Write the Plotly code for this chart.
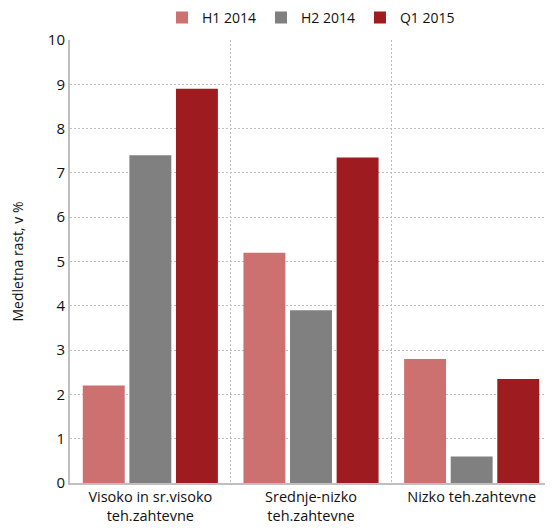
import plotly.graph_objs as go

categories = ['Visoko in sr.visoko<br>teh.zahtevne', 'Srednje-nizko<br>teh.zahtevne', 'Nizko teh.zahtevne']
series_names = ['H1 2014', 'H2 2014', 'Q1 2015']
h1_2014 = [2.2, 5.2, 2.8]
h2_2014 = [7.4, 3.9, 0.6]
q1_2015 = [8.9, 7.35, 2.35]
y_ticks = [0, 1, 2, 3, 4, 5, 6, 7, 8, 9, 10]

colors = ['#CD7070', '#808080', '#9E1B20']
positions = list(range(len(categories)))

fig = go.Figure()
for name, values, color in zip(series_names, [h1_2014, h2_2014, q1_2015], colors):
    fig.add_trace(go.Bar(x=positions, y=values, name=name,
                         marker=dict(color=color, line=dict(width=0))))

# page body adds an 8px margin, so the margins below are shifted by that
fig.update_layout(
    width=553, height=531,
    barmode='group', bargap=0.13, bargroupgap=0.1,
    plot_bgcolor='white', paper_bgcolor='white',
    font=dict(family='Open Sans, Noto Sans, sans-serif', size=14, color='#111111'),
    margin=dict(l=62, r=9, t=32, b=56, autoexpand=False),
    legend=dict(orientation='h', x=0.5, xanchor='center', y=1.05, yanchor='middle',
                font=dict(size=14), itemwidth=30, traceorder='normal'),
    xaxis=dict(range=[-0.5, 2.5], tickvals=positions, ticktext=categories,
               showgrid=False, showline=True, linecolor='#BFBFBF', linewidth=2,
               ticks='', zeroline=False, tickfont=dict(size=14.5),
               minor=dict(tickvals=[0.5, 1.5, 2.5], showgrid=True, gridcolor='#BDBDBD',
                          griddash='2px,2px', gridwidth=1)),
    yaxis=dict(range=[0, 10], tickvals=y_ticks, showgrid=True, gridcolor='#BDBDBD',
               griddash='2px,2px', gridwidth=1, showline=True, linecolor='#BFBFBF', linewidth=2,
               zeroline=False, ticks='', tickfont=dict(size=15),
               title=dict(text='Medletna rast, v %', font=dict(size=14), standoff=22)),
)

fig.write_html("out.html")
